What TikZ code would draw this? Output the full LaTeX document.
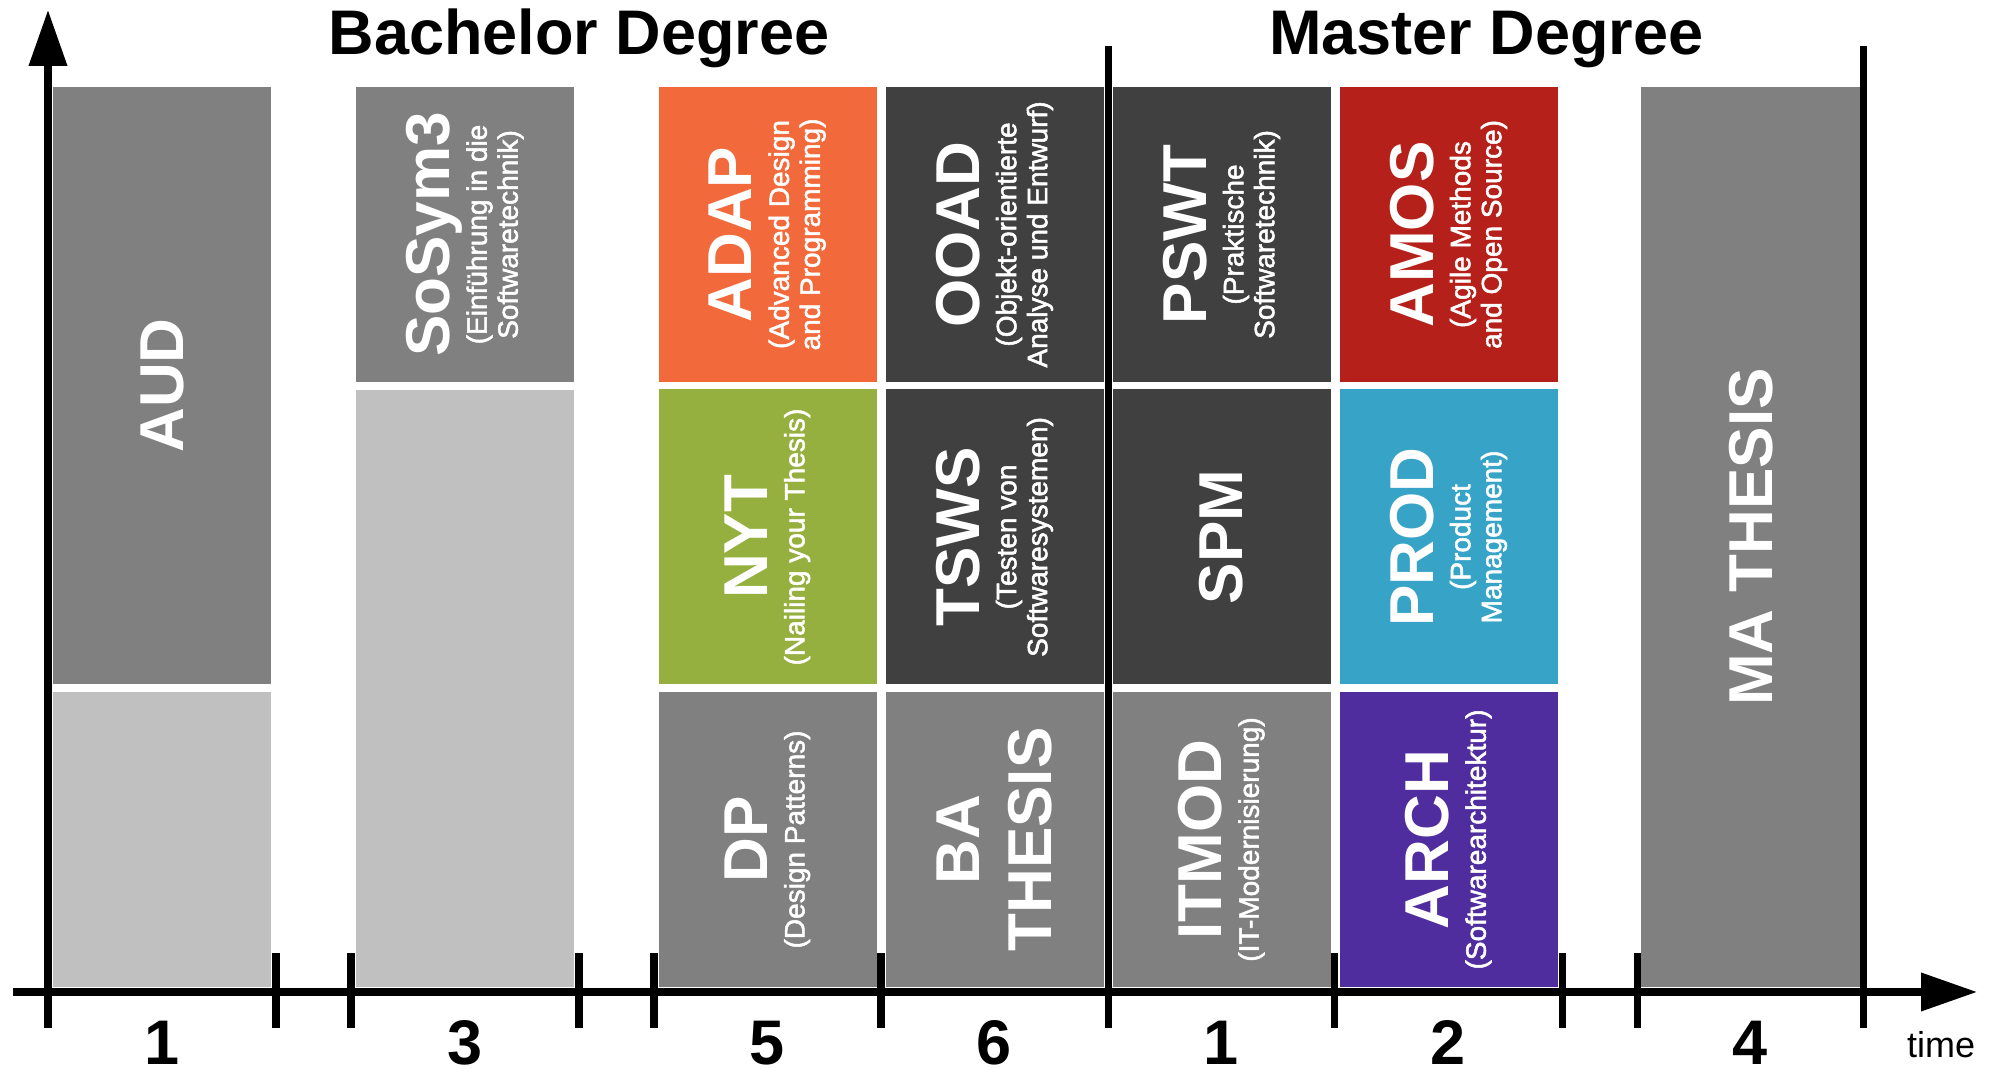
\documentclass[tikz,border=0pt]{standalone}
\usepackage{fontspec}
\setmainfont{Liberation Sans}
\newfontfamily\subtitlefont[FakeBold=1.8]{Liberation Sans}
\usepackage{tikz}
\usetikzlibrary{arrows.meta,positioning}

\definecolor{adaporange}{HTML}{F26A3B}
\definecolor{nytgreen}{HTML}{96B040}
\definecolor{amosred}{HTML}{B5211A}
\definecolor{prodblue}{HTML}{37A4C7}
\definecolor{archpurple}{HTML}{502D9F}
\definecolor{darkgr}{HTML}{404040}
\definecolor{midgr}{HTML}{808080}
\definecolor{lightgr}{HTML}{C0C0C0}

\lineskiplimit=-100pt
\newcommand{\coursename}[1]{{\fontsize{17.64}{20.5}\selectfont\normalfont\bfseries #1}}

\tikzset{
  course/.style={rotate=90, inner sep=0pt, text=white, align=center,
    minimum width=2.95cm, minimum height=2.18cm,
    font=\subtitlefont\fontsize{7.97}{8.82}\selectfont},
  mainlbl/.style={font=\fontsize{17.64}{20.5}\selectfont\bfseries},
  axisline/.style={line width=2pt, black},
  semlbl/.style={anchor=base, font=\fontsize{17.93}{20}\selectfont\bfseries},
  degree/.style={anchor=base, font=\fontsize{17.93}{20}\selectfont\bfseries}
}

\begin{document}
\begin{tikzpicture}
\useasboundingbox (0,0) rectangle (19.95,10.69);

% Bachelor semesters
\node[course, mainlbl, fill=midgr, minimum width=5.97cm] (aud) at (1.62,6.835) {AUD};
\node[course, fill=lightgr] (audfree) at (1.62,2.295) {};
\node[course, fill=midgr] (sosym) at (4.65,8.345) {\coursename{SoSym3}\\[1.7pt](Einführung in die\\Softwaretechnik)};
\node[course, fill=lightgr, minimum width=5.97cm] (sosymfree) at (4.65,3.805) {};
\node[course, fill=adaporange] (adap) at (7.675,8.345) {\coursename{ADAP}\\[1.7pt](Advanced Design\\and Programming)};
\node[course, fill=nytgreen] (nyt) at (7.675,5.32) {\coursename{NYT}\\[1.7pt](Nailing your Thesis)};
\node[course, fill=midgr] (dp) at (7.675,2.295) {\coursename{DP}\\[1.7pt](Design Patterns)};
\node[course, fill=darkgr] (ooad) at (9.945,8.345) {\coursename{OOAD}\\[1.7pt](Objekt-orientierte\\Analyse und Entwurf)};
\node[course, fill=darkgr] (tsws) at (9.945,5.32) {\coursename{TSWS}\\[1.7pt](Testen von\\Softwaresystemen)};
\node[course, mainlbl, fill=midgr] (bathesis) at (9.945,2.295) {BA\\THESIS};

% Master semesters
\node[course, fill=darkgr] (pswt) at (12.215,8.345) {\coursename{PSWT}\\[1.7pt](Praktische\\Softwaretechnik)};
\node[course, mainlbl, fill=darkgr] (spm) at (12.215,5.32) {SPM};
\node[course, fill=midgr] (itmod) at (12.215,2.295) {\coursename{ITMOD}\\[1.7pt](IT-Modernisierung)};
\node[course, fill=amosred] (amos) at (14.485,8.345) {\coursename{AMOS}\\[1.7pt](Agile Methods\\and Open Source)};
\node[course, fill=prodblue] (prod) at (14.485,5.32) {\coursename{PROD}\\[1.7pt](Product\\Management)};
\node[course, fill=archpurple] (arch) at (14.485,2.295) {\coursename{ARCH}\\[1.7pt](Softwarearchitektur)};
\node[course, mainlbl, fill=midgr, minimum width=9cm, minimum height=2.21cm] (mathesis) at (17.515,5.32) {MA THESIS};

% axes
\coordinate (xstart) at (0.13,0.77);
\coordinate (xend) at (19.77,0.77);
\coordinate (ystart) at (0.48,0.41);
\coordinate (yend) at (0.48,10.59);
\draw[axisline, -{Triangle[length=5.6mm,width=3.7mm]}] (xstart) -- (xend);
\draw[axisline, -{Triangle[length=5.6mm,width=3.7mm]}] (ystart) -- (yend);
\foreach \x in {2.76,3.51,5.79,6.54,8.81,13.34,15.62,16.37}
  \draw[axisline] (\x,0.41) -- (\x,1.16);
\draw[axisline] (11.08,0.41) -- (11.08,10.23);
\draw[axisline] (18.63,0.41) -- (18.63,10.23);

% semester numbers
\foreach \x/\s/\n in {1.62/1/bsem1, 4.65/3/bsem3, 7.675/5/bsem5, 9.945/6/bsem6,
                      12.21/1/msem1, 14.48/2/msem2, 17.5/4/msem4}
  \node[semlbl] (\n) at (\x,0.04) {\s};
\node[anchor=base, font=\fontsize{10.24}{12}\selectfont] (timelbl) at (19.41,0.11) {time};

% degrees
\node[degree] (bachelor) at (5.79,10.14) {Bachelor Degree};
\node[degree] (master) at (14.865,10.14) {Master Degree};
\end{tikzpicture}
\end{document}
